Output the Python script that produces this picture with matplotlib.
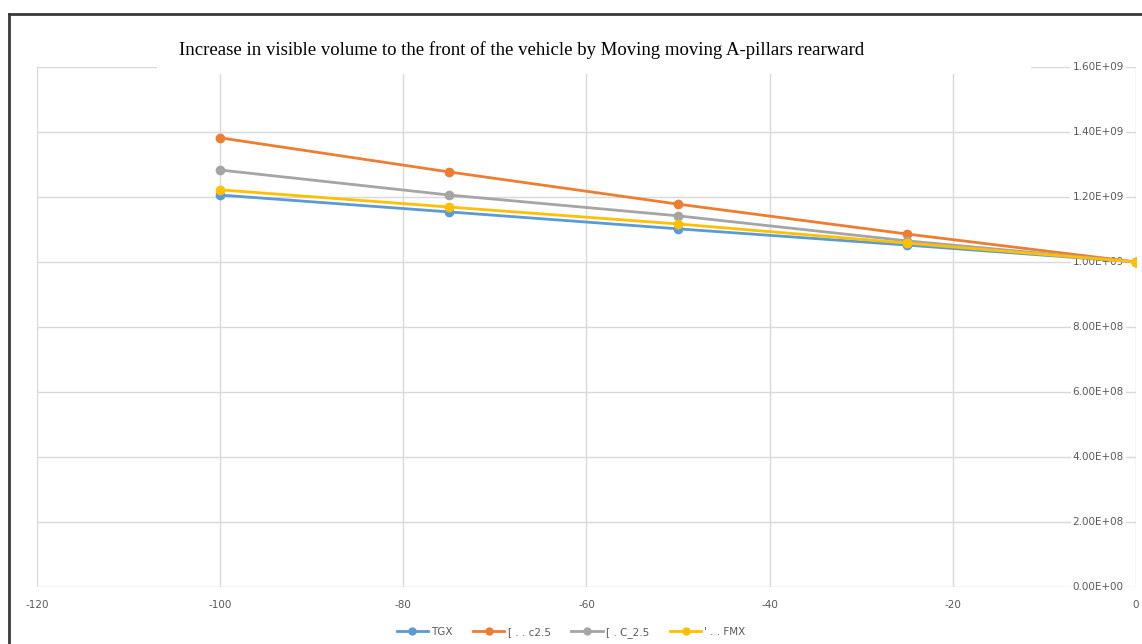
import matplotlib.pyplot as plt
from matplotlib.lines import Line2D
from matplotlib.patches import Rectangle

plt.rcParams['axes.unicode_minus'] = False

# chart data
x_vals = [-100, -75, -50, -25, 0]
series_names = ['TGX', '[ . . c2.5', '[ . C_2.5', "' . . FMX"]
tgx = [1.206e9, 1.154e9, 1.102e9, 1.052e9, 1.0e9]
c25 = [1.382e9, 1.277e9, 1.178e9, 1.086e9, 1.0e9]
c_25 = [1.283e9, 1.206e9, 1.142e9, 1.065e9, 1.0e9]
fmx = [1.222e9, 1.169e9, 1.117e9, 1.058e9, 1.0e9]
colors = ['#5B9BD5', '#ED7D31', '#A5A5A5', '#FFC000']

x_ticks = [-120, -100, -80, -60, -40, -20, 0]
y_ticks = [0, 2e8, 4e8, 6e8, 8e8, 1e9, 1.2e9, 1.4e9, 1.6e9]
title = 'Increase in visible volume to the front of the vehicle by Moving moving A-pillars rearward'

fig = plt.figure(figsize=(11.42, 6.44), dpi=100)
ax = fig.add_axes([0.0324, 0.0885, 0.9623, 0.8075])

for vals, name, col in zip([tgx, c25, c_25, fmx], series_names, colors):
    ax.plot(x_vals, vals, color=col, lw=2.0, marker='o', ms=6, label=name, zorder=3)

ax.set_xlim(-120, 0)
ax.set_ylim(0, 1.6e9)
ax.set_xticks(x_ticks)
ax.set_yticks(y_ticks)
ax.grid(True, color='#d9d9d9', lw=1.0)
ax.set_axisbelow(True)
for s in ax.spines.values():
    s.set_visible(False)
ax.tick_params(axis='both', length=0)
ax.tick_params(axis='x', labelsize=7.5, labelcolor='#595959', pad=9)
ax.set_yticklabels([])

# y labels sit inside the plot at its right edge
for yv in y_ticks:
    ax.text(0.989, yv, '%.2E' % yv, transform=ax.get_yaxis_transform(),
            ha='right', va='center', fontsize=7.5, color='#595959',
            bbox=dict(facecolor='white', edgecolor='none', pad=1.5), zorder=2.5)

# title with white box covering top gridline
fig.text(0.457, 0.923, title, ha='center', va='center', fontsize=13.5,
         family='Liberation Serif', color='black')
fig.add_artist(Rectangle((0.1375, 0.885), 0.765, 0.03, transform=fig.transFigure,
                         facecolor='white', edgecolor='none', zorder=2))

handles = [Line2D([0], [0], color=c, lw=2, marker='o', ms=5) for c in colors]
leg = fig.legend(handles, series_names, loc='center', bbox_to_anchor=(0.5, 0.018),
                 ncol=4, frameon=False, fontsize=7.5, handlelength=3.0,
                 columnspacing=2.0, handletextpad=0.3)
for t in leg.get_texts():
    t.set_color('#595959')

# outer frame
fig.add_artist(Line2D([0.0075, 0.0075], [0.0, 0.978], transform=fig.transFigure,
                      color='#3a3a3a', lw=2))
fig.add_artist(Line2D([0.0075, 1.0], [0.978, 0.978], transform=fig.transFigure,
                      color='#3a3a3a', lw=2))

fig.savefig('out.png', dpi=100)
